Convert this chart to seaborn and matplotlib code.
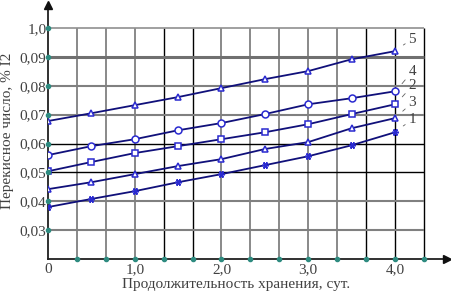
import matplotlib
matplotlib.use('Agg')
import numpy as np
import pandas as pd
import matplotlib.pyplot as plt
import seaborn as sns

# сроки хранения, сут.
days = [0, 0.5, 1.0, 1.5, 2.0, 2.5, 3.0, 3.5, 4.0]

# перекисное число, % I2 (по кривым 1-5)
s1 = [0.0380, 0.0408, 0.0435, 0.0466, 0.0494, 0.0525, 0.0556, 0.0594, 0.0639]
s2 = [0.0504, 0.0536, 0.0567, 0.0591, 0.0615, 0.0639, 0.0667, 0.0702, 0.0736]
s3 = [0.0442, 0.0466, 0.0494, 0.0522, 0.0546, 0.0581, 0.0605, 0.0653, 0.0688]
s4 = [0.0560, 0.0591, 0.0615, 0.0646, 0.0671, 0.0702, 0.0736, 0.0757, 0.0781]
s5 = [0.0678, 0.0705, 0.0733, 0.0761, 0.0792, 0.0823, 0.0851, 0.0892, 0.0920]

curve_names = ['1', '2', '3', '4', '5']
yticks = [0.03, 0.04, 0.05, 0.06, 0.07, 0.08, 0.09, 0.10]
ytick_labels = ['0,03', '0,04', '0,05', '0,06', '0,07', '0,08', '0,09', '1,0']
xtick_labels = ['0', '1,0', '2,0', '3,0', '4,0']

sns.set_style('white')
plt.rcParams['font.family'] = ['Liberation Serif', 'DejaVu Serif']

fig = plt.figure(figsize=(4.51, 2.95), dpi=100)
# оси продлены за сетку, чтобы получить стрелки
ax = fig.add_axes([48/451, 36/295, 399/451, 254/295])

xgrid_max = 13 / 3
ygrid_max = 0.10
ax.set_xlim(0, 4.6)
ax.set_ylim(0.02, 0.108)

# сетка: шаг 1/3 сут. по x и 0,01 по y, часть линий чёрные, часть серые
vgrid = np.arange(1, 14) / 3
vcol = ['#808080', '#808080', '#808080', 'k', 'k', '#808080', '#808080',
        '#808080', '#808080', '#808080', 'k', 'k', 'k']
for xv, c in zip(vgrid, vcol):
    ax.vlines(xv, 0.02, ygrid_max, color=c, lw=1.0 if c == 'k' else 1.3, zorder=1)
hcol = ['#808080', '#808080', 'k', 'k', '#808080', '#808080', '#707070', '#909090']
hlw = [1.5, 1.5, 1.0, 1.0, 1.5, 1.5, 2.2, 1.2]
for yv, c, w in zip(yticks, hcol, hlw):
    ax.hlines(yv, 0, xgrid_max, color=c, lw=w, zorder=1)

series = [s1, s2, s3, s4, s5]
markers = [(6, 2, 90), 's', '^', 'o', '^']
line_c = '#10107a'
mark_c = '#2a2ad0'
for s, m in zip(series, markers):
    df = pd.DataFrame({'day': days, 'pv': s})
    sns.lineplot(data=df, x='day', y='pv', ax=ax, color=line_c, lw=1.3,
                 marker=m, markersize=5, markerfacecolor='white' if m != (6, 2, 90) else mark_c,
                 markeredgecolor=mark_c, markeredgewidth=1.1, zorder=3)
ax.set_xlim(0, 4.6)
ax.set_ylim(0.02, 0.108)

# подписи кривых
label_pos = {'5': 0.0962, '4': 0.0850, '2': 0.0800, '3': 0.0742, '1': 0.0683}
for name, s in zip(curve_names, series):
    ax.annotate(name, xy=(4.03, s[-1] + 0.0008), xytext=(4.2, label_pos[name]),
                fontsize=11, color='#404040', va='center', ha='center',
                arrowprops=dict(arrowstyle='-', color='#606060', lw=0.6,
                                shrinkB=5, shrinkA=0),
                annotation_clip=False, zorder=4)

ax.set_xticks([0, 1, 2, 3, 4])
ax.set_xticklabels(xtick_labels)
ax.set_yticks(yticks)
ax.set_yticklabels(ytick_labels)
ax.tick_params(axis='both', length=0, labelsize=11, labelcolor='#404040')
ax.tick_params(axis='x', pad=3)
ax.tick_params(axis='y', pad=1)

for sp in ['top', 'right']:
    ax.spines[sp].set_visible(False)
for sp in ['left', 'bottom']:
    ax.spines[sp].set_color('#202020')
    ax.spines[sp].set_linewidth(1.3)

# наконечники стрелок осей
ax.plot([0], [0.108], marker='^', ms=6, color='#101010', clip_on=False, zorder=7)
ax.plot([4.6], [0.02], marker='>', ms=6, color='#101010', clip_on=False, zorder=7)

# зелёные точки делений на осях
tick_c = '#2e8b80'
ax.plot(vgrid, np.full(len(vgrid), 0.02), ls='none', marker='o', ms=3,
        color=tick_c, clip_on=False, zorder=6)
ax.plot(np.zeros(len(yticks)), yticks, ls='none', marker='o', ms=3,
        color=tick_c, clip_on=False, zorder=6)

ax.set_xlabel('Продолжительность хранения, сут.', fontsize=11, color='#404040')
ax.set_ylabel('Перекисное число, % I2', fontsize=11, color='#404040')
ax.xaxis.set_label_coords(0.471, -0.075)
ax.yaxis.set_label_coords(-0.085, 0.504)

plt.savefig('out.png', dpi=100)
